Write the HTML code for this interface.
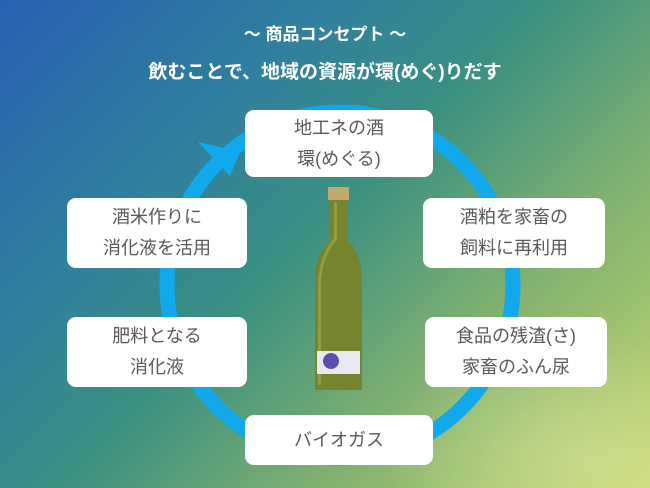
<!DOCTYPE html>
<html><head><meta charset="utf-8"><style>
html,body{margin:0;width:650px;height:488px;overflow:hidden}
#c{position:relative;width:650px;height:488px;overflow:hidden;font-family:"Liberation Sans","Noto Sans CJK JP",sans-serif;
background:linear-gradient(135deg,#2760b0 0%,#2f7fa0 28%,#3a9080 48%,#7fb070 70%,#c8d870 100%);}
.t{position:absolute;left:0;width:650px;text-align:center;color:#fff;font-weight:bold}
.b{position:absolute;background:#fff;border-radius:9px;color:#595959;font-size:18px;line-height:31px;text-align:center;display:flex;align-items:center;justify-content:center}
</style></head><body><div id="c">
<div style="position:absolute;left:380px;top:330px;width:270px;height:158px;background:radial-gradient(ellipse at 75% 80%,rgba(225,235,170,0.45),rgba(225,235,170,0) 70%)"></div>
<div class="t" style="top:20px;font-size:17px">～ 商品コンセプト ～</div>
<div class="t" style="top:57px;font-size:19px">飲むことで、地域の資源が環(めぐ)りだす</div>
<svg width="650" height="488" style="position:absolute;left:0;top:0">
<circle cx="340" cy="285" r="173" fill="none" stroke="#12a8ec" stroke-width="15"/>
<polygon points="240,152 198,142 230,176" fill="#12a8ec"/>
<rect x="328" y="187" width="21" height="13" fill="#c0aa70"/>
<path d="M330 200 L348 200 L348 240 Q362 255 362 280 L362 390 L315 390 L315 280 Q315 255 330 240 Z" fill="#76842e"/>
<path d="M334 202 L337 202 L337 240 Q321 258 321 285 L321 385 L318 385 L318 282 Q320 254 334 238 Z" fill="#8f9d44"/>
<rect x="317" y="351" width="43" height="23" fill="#e8e8f0"/>
<circle cx="331" cy="361" r="8" fill="#5a4fb0"/>
</svg>
<div class="b" style="left:245px;top:110px;width:188px;height:67px">地工ネの酒<br>環(めぐる)</div>
<div class="b" style="left:67px;top:198px;width:180px;height:70px">酒米作りに<br>消化液を活用</div>
<div class="b" style="left:423px;top:198px;width:182px;height:70px">酒粕を家畜の<br>飼料に再利用</div>
<div class="b" style="left:67px;top:317px;width:180px;height:70px">肥料となる<br>消化液</div>
<div class="b" style="left:425px;top:317px;width:182px;height:70px">食品の残渣(さ)<br>家畜のふん尿</div>
<div class="b" style="left:245px;top:415px;width:188px;height:50px">バイオガス</div>
</div></body></html>
